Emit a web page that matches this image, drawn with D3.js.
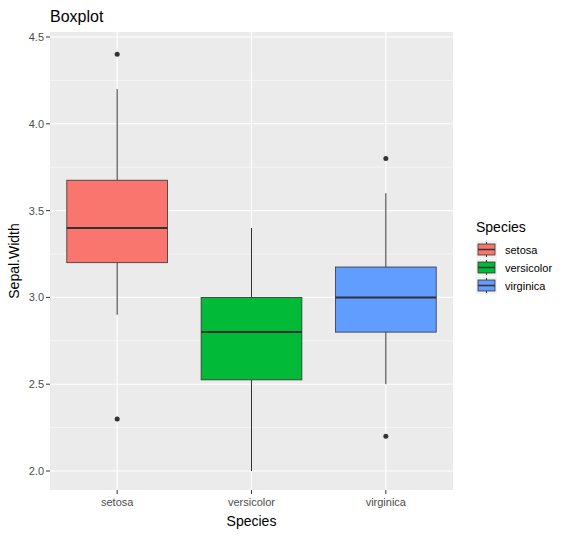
<!DOCTYPE html>
<html><head><meta charset="utf-8">
<script src="https://cdn.jsdelivr.net/npm/d3@7"></script>
<style>body{margin:0;background:#fff}text{font-family:Arial,"Liberation Sans",sans-serif}</style>
</head><body>
<svg id="c" width="573" height="537"></svg>
<script>
// iris Sepal.Width by species
var species = ["setosa", "versicolor", "virginica"];
var colors = ["#F8766D", "#00BA38", "#619CFF"];
var q1 = [3.2, 2.525, 2.8];
var medians = [3.4, 2.8, 3.0];
var q3 = [3.675, 3.0, 3.175];
var whiskLo = [2.9, 2.0, 2.5];
var whiskHi = [4.2, 3.4, 3.6];
var outliers = [[4.4, 2.3], [], [3.8, 2.2]];
var yTicks = [2.0, 2.5, 3.0, 3.5, 4.0, 4.5];

var svg = d3.select("#c");
var L = 50, R = 453, T = 32, B = 490;
var x = d3.scaleBand().domain(species).range([L, R]).padding(0);
var y = d3.scaleLinear().domain([2.0, 4.5]).range([471, 37]);

svg.append("rect").attr("x", L).attr("y", T).attr("width", R - L).attr("height", B - T).attr("fill", "#EBEBEB");
// minor grid
for (var i = 0; i < yTicks.length - 1; i++) {
  var m = (yTicks[i] + yTicks[i + 1]) / 2;
  svg.append("line").attr("x1", L).attr("x2", R).attr("y1", y(m)).attr("y2", y(m)).attr("stroke", "#fff").attr("stroke-width", 0.5);
}
yTicks.forEach(function (t) {
  svg.append("line").attr("x1", L).attr("x2", R).attr("y1", y(t)).attr("y2", y(t)).attr("stroke", "#fff").attr("stroke-width", 1.1);
  svg.append("line").attr("x1", L - 4).attr("x2", L).attr("y1", y(t)).attr("y2", y(t)).attr("stroke", "#333");
  svg.append("text").attr("x", L - 6).attr("y", y(t) + 4).attr("text-anchor", "end").attr("font-size", 11).attr("fill", "#4D4D4D").text(t.toFixed(1));
});
species.forEach(function (s) {
  var cx = x(s) + x.bandwidth() / 2;
  svg.append("line").attr("x1", cx).attr("x2", cx).attr("y1", T).attr("y2", B).attr("stroke", "#fff").attr("stroke-width", 1.1);
  svg.append("line").attr("x1", cx).attr("x2", cx).attr("y1", B).attr("y2", B + 4).attr("stroke", "#333");
  svg.append("text").attr("x", cx).attr("y", B + 16).attr("text-anchor", "middle").attr("font-size", 11).attr("fill", "#4D4D4D").text(s);
});

var bw = x.bandwidth() * 0.75;
species.forEach(function (s, i) {
  var cx = x(s) + x.bandwidth() / 2, g = svg.append("g");
  g.append("line").attr("x1", cx).attr("x2", cx).attr("y1", y(whiskHi[i])).attr("y2", y(q3[i])).attr("stroke", "#333");
  g.append("line").attr("x1", cx).attr("x2", cx).attr("y1", y(q1[i])).attr("y2", y(whiskLo[i])).attr("stroke", "#333");
  g.append("rect").attr("x", cx - bw / 2).attr("width", bw).attr("y", y(q3[i])).attr("height", y(q1[i]) - y(q3[i]))
    .attr("fill", colors[i]).attr("stroke", "#333").attr("stroke-width", 0.8);
  g.append("line").attr("x1", cx - bw / 2).attr("x2", cx + bw / 2).attr("y1", y(medians[i])).attr("y2", y(medians[i])).attr("stroke", "#333").attr("stroke-width", 2);
  outliers[i].forEach(function (o) {
    g.append("circle").attr("cx", cx).attr("cy", y(o)).attr("r", 2.5).attr("fill", "#333");
  });
});

svg.append("text").attr("x", L).attr("y", 22).attr("font-size", 16).attr("fill", "#000").text("Boxplot");
svg.append("text").attr("x", (L + R) / 2).attr("y", 526).attr("text-anchor", "middle").attr("font-size", 14).text("Species");
svg.append("text").attr("transform", "translate(19," + (T + B) / 2 + ") rotate(-90)").attr("text-anchor", "middle").attr("font-size", 14).text("Sepal.Width");

// legend
svg.append("text").attr("x", 476).attr("y", 232).attr("font-size", 14).text("Species");
species.forEach(function (s, i) {
  var ky = 241 + i * 18;
  svg.append("rect").attr("x", 476).attr("y", ky).attr("width", 21).attr("height", 17).attr("fill", "#F2F2F2");
  svg.append("line").attr("x1", 486.5).attr("x2", 486.5).attr("y1", ky + 1).attr("y2", ky + 16).attr("stroke", "#333");
  svg.append("rect").attr("x", 478).attr("y", ky + 3).attr("width", 17).attr("height", 11).attr("fill", colors[i]).attr("stroke", "#333").attr("stroke-width", 0.8);
  svg.append("line").attr("x1", 478).attr("x2", 495).attr("y1", ky + 8.5).attr("y2", ky + 8.5).attr("stroke", "#333").attr("stroke-width", 1.5);
  svg.append("text").attr("x", 505).attr("y", ky + 13).attr("font-size", 11).text(s);
});
</script>
</body></html>
